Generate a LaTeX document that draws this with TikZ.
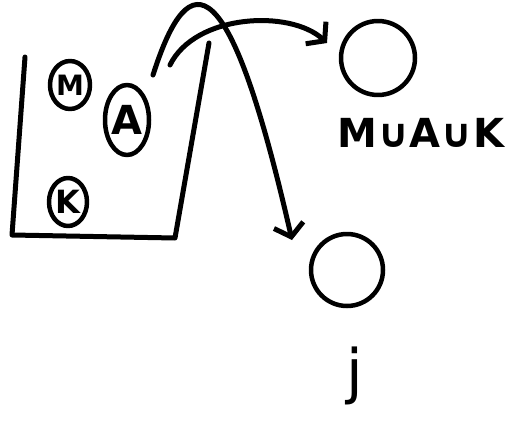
\documentclass[tikz,border=0pt]{standalone}
\usepackage{fontspec}
\setmainfont{DejaVu Sans}
\usetikzlibrary{arrows.meta,shapes.geometric}
\begin{document}
\begin{tikzpicture}[font=\bfseries, line join=round, line cap=round, line width=5pt, >={Straight Barb[length=12pt,width=30pt]}, x=1pt, y=1pt]
\useasboundingbox (0,0) rectangle (511,424);
\tikzset{ball/.style={draw, ellipse, inner sep=0pt, line width=4.5pt}}
% the urn
\draw (25,367) -- (12,189) -- (175,186) -- (209,381);
\foreach \n/\x/\y/\w/\h/\s/\l in {m/70/339/40/48/28/M, a/127/304/44/70/40/A, k/68/222/38/48/32/K}{
  \node[ball, minimum width=\w, minimum height=\h, font=\fontsize{\s}{\s}\bfseries] (\n) at (\x,\y) {\l};}
\node[ball, circle, minimum size=74] (all) at (378,366) {};
\node[font=\fontsize{40}{40}\bfseries, inner sep=0pt] (alll) at (421,291) {M∪A∪K};
\node[ball, circle, minimum size=72] (none) at (347,154) {};
\node[font=\fontsize{60}{60}\selectfont] (nonel) at (355,48) {j};
\coordinate (s1) at (170,359);
\coordinate (s2) at (153,349);
\coordinate (t1) at (327,381);
\coordinate (t2) at (292,184);
\draw[->] (s1) .. controls (195,410) and (290,415) .. (t1);
\draw[->] (s2) .. controls (190,465) and (230,455) .. (t2);
\end{tikzpicture}
\end{document}
